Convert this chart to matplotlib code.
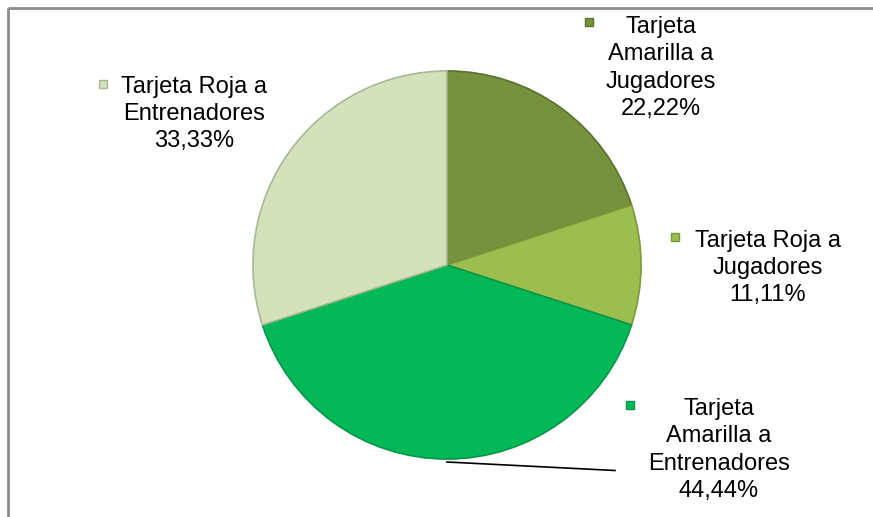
import matplotlib
matplotlib.use("Agg")
from matplotlib import pyplot as plt

# data (labels show the values, the pie normalizes them)
categories = [
    "Tarjeta\nAmarilla a\nJugadores",
    "Tarjeta Roja a\nJugadores",
    "Tarjeta\nAmarilla a\nEntrenadores",
    "Tarjeta Roja a\nEntrenadores",
]
values = [22.22, 11.11, 44.44, 33.33]
pct_labels = ["22,22%", "11,11%", "44,44%", "33,33%"]
colors = ["#76923C", "#9CBE4E", "#05B857", "#D3E2BB"]
edges = ["#5A7030", "#7A9A3A", "#04964A", "#A8B894"]

W, H = 873, 517


def main():
    plt.rcParams["font.family"] = ["Liberation Sans", "DejaVu Sans"]
    fig = plt.figure(figsize=(W / 100, H / 100), dpi=100)

    # pie
    cx, cy, r = 447, 265, 196
    ax = fig.add_axes([(cx - r) / W, (H - cy - r) / H, 2 * r / W, 2 * r / H])
    wedges, _ = ax.pie(values, colors=colors, startangle=90, counterclock=False,
                       wedgeprops=dict(linewidth=1.2))
    for w, e in zip(wedges, edges):
        w.set_edgecolor(e)
    ax.set_xlim(-1.01, 1.01)
    ax.set_ylim(-1.01, 1.01)
    ax.axis("off")

    # overlay in pixel coordinates for labels, markers, frame
    top = fig.add_axes([0, 0, 1, 1], zorder=3)
    top.set_xlim(0, W)
    top.set_ylim(H, 0)
    top.axis("off")
    top.patch.set_alpha(0)

    # chart frame (only top and left edges visible)
    top.plot([8, W + 5], [7.5, 7.5], color="#8C8C8C", lw=2, solid_capstyle="butt")
    top.plot([8, 8], [7.5, H + 5], color="#8C8C8C", lw=2, solid_capstyle="butt")

    text_pos = [(661, 68), (768, 268), (719, 450), (194, 114)]
    marker_pos = [(589, 22), (675, 237), (630, 405), (103, 84)]
    for cat, pct, c, e, (tx, ty), (mx, my) in zip(categories, pct_labels, colors,
                                                   edges, text_pos, marker_pos):
        top.text(tx, ty, cat + "\n" + pct, ha="center", va="center",
                 fontsize=17, color="#000000", linespacing=1.32)
        top.plot(mx, my, marker="s", ms=5.5, mfc=c, mec=e, mew=1)

    # leader line for the bottom slice
    top.plot([447, 615], [462, 470.5], color="#000000", lw=1.2)

    fig.savefig("out.png", dpi=100, facecolor="white")


if __name__ == "__main__":
    main()
